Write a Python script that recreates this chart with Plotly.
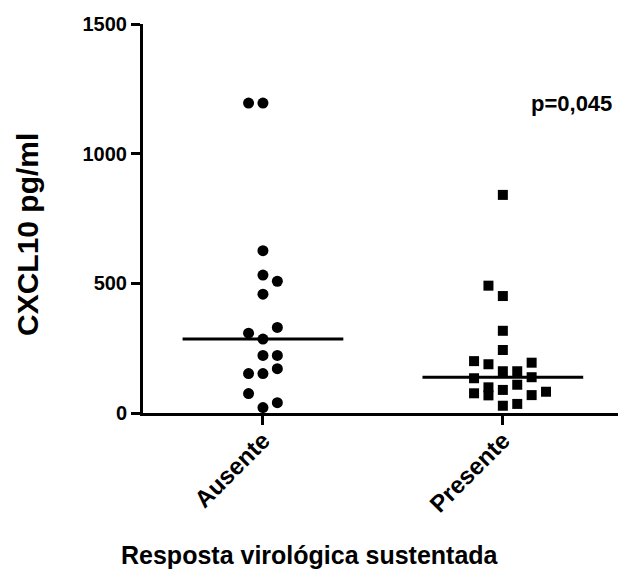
import plotly.graph_objects as go

categories = ["Ausente", "Presente"]

ausente_values = [1195, 1195, 626, 532, 508, 458, 330, 308, 285, 222, 222, 171, 152, 152, 75, 40, 21]
ausente_offsets = [-0.06, 0, 0, 0, 0.06, 0, 0.06, -0.06, 0, 0, 0.06, 0.06, -0.06, 0, -0.06, 0.06, 0]

presente_values = [841, 491, 451, 317, 243, 200, 188, 161, 161, 194, 134, 138, 109, 99, 68, 89, 76, 69, 82, 28, 35]
presente_offsets = [0, -0.06, 0, 0, 0, -0.12, -0.06, 0, 0.06, 0.12, -0.12, 0.12, 0.06, -0.06, -0.06, 0, -0.12, 0.12, 0.18, 0, 0.06]

medians = [285, 138]
median_halfwidth = 0.335

y_ticks = [0, 500, 1000, 1500]
p_text = "p=0,045"
x_title = "Resposta virológica sustentada"
y_title = "CXCL10 pg/ml"

FONT = "Liberation Sans, Arial, sans-serif"

fig = go.Figure()

fig.add_trace(go.Scatter(
    x=[0 + o for o in ausente_offsets], y=ausente_values, mode="markers",
    marker=dict(symbol="circle", size=11, color="black", line=dict(width=0)),
    showlegend=False, hoverinfo="y"))

fig.add_trace(go.Scatter(
    x=[1 + o for o in presente_offsets], y=presente_values, mode="markers",
    marker=dict(symbol="square", size=10, color="black", line=dict(width=0)),
    showlegend=False, hoverinfo="y"))

for i, m in enumerate(medians):
    fig.add_trace(go.Scatter(
        x=[i - median_halfwidth, i + median_halfwidth], y=[m, m], mode="lines",
        line=dict(color="black", width=3), showlegend=False, hoverinfo="skip"))

L, T, B = 143, 24, 171
W, H = 618, 584
pw = W - L
ph = H - T - B

fig.update_layout(
    width=W, height=H,
    margin=dict(l=L, r=0, t=T, b=B, pad=0),
    plot_bgcolor="white", paper_bgcolor="white",
    font=dict(family=FONT, color="black"),
    xaxis=dict(
        range=[-0.5, 1.48], tickmode="array", tickvals=[0, 1], ticktext=categories,
        tickangle=-45, ticks="outside", ticklen=9, tickwidth=3, tickcolor="black",
        ticklabelstandoff=-8,
        showline=True, linewidth=3, linecolor="black", showgrid=False, zeroline=False,
        tickfont=dict(family=FONT, size=24, color="black", weight="bold"),
    ),
    yaxis=dict(
        range=[0, 1500], tickmode="array", tickvals=y_ticks,
        ticks="outside", ticklen=9, tickwidth=3, tickcolor="black",
        showline=True, linewidth=3, linecolor="black", showgrid=False, zeroline=False,
        tickfont=dict(family=FONT, size=20, color="black", weight="bold"),
    ),
    annotations=[
        dict(text=x_title, xref="paper", yref="paper",
             x=(310 - L) / pw, y=(H - B - 555) / ph, xanchor="center", yanchor="middle",
             showarrow=False, font=dict(family=FONT, size=25, color="black", weight="bold")),
        dict(text=y_title, xref="paper", yref="paper", textangle=-90,
             x=(28 - L) / pw, y=(H - B - 235) / ph, xanchor="center", yanchor="middle",
             showarrow=False, font=dict(family=FONT, size=30, color="black", weight="bold")),
        dict(text=p_text, xref="x", yref="y", x=1.462, y=1195,
             xanchor="right", yanchor="middle", showarrow=False,
             font=dict(family=FONT, size=22, color="black", weight="bold")),
    ],
)

fig.write_html("out.html")
